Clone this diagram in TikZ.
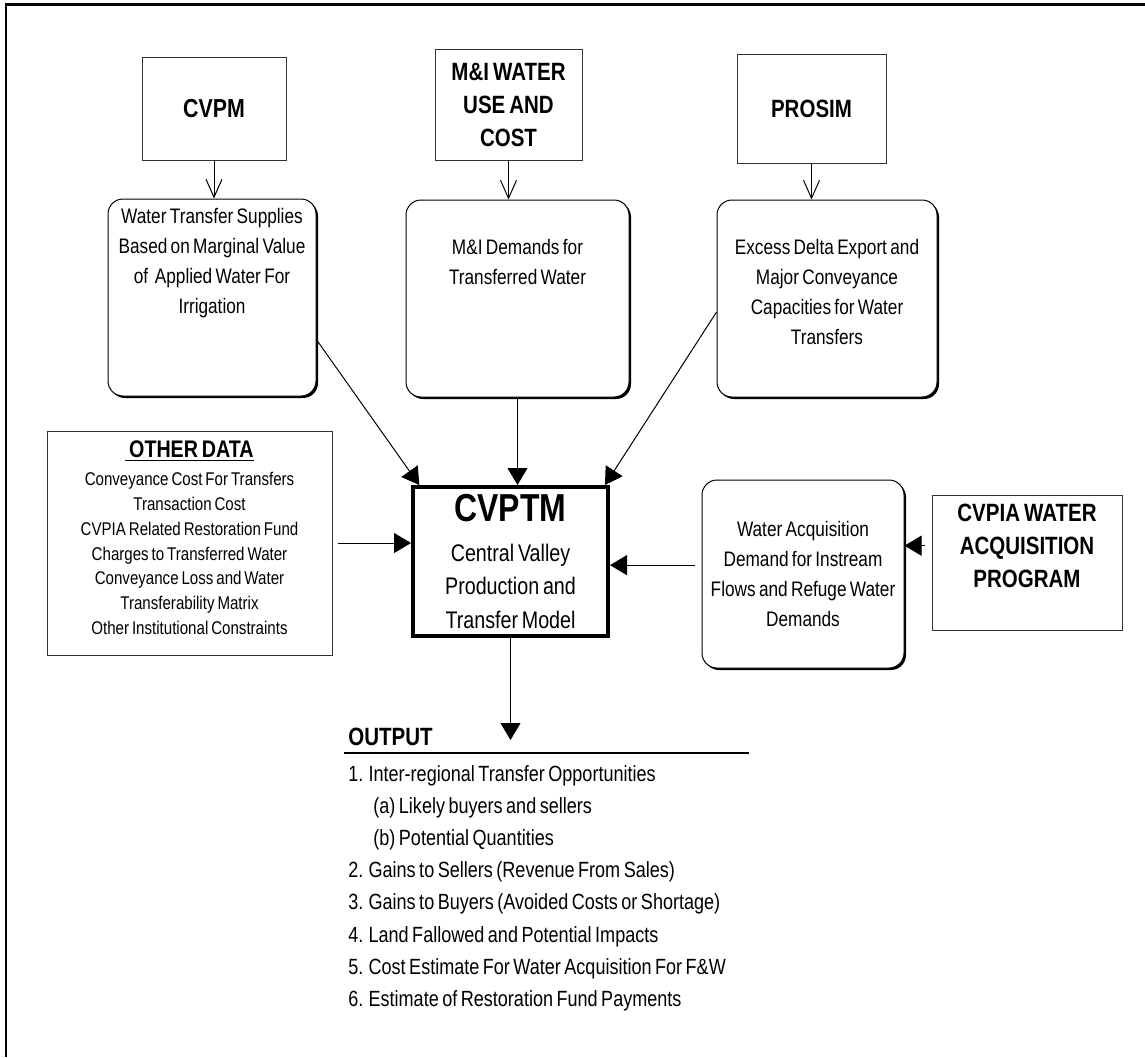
\documentclass[tikz,border=0pt]{standalone}
\usepackage{fontspec}
\setmainfont{Liberation Sans}[FakeStretch=0.82,WordSpace=0.7]
\usetikzlibrary{arrows.meta,positioning,shadows}

\begin{document}
\begin{tikzpicture}[x=0.5pt,y=-0.5pt,
    srcbox/.style={rectangle,draw=black!80,line width=0.5pt,align=center,
      font=\fontsize{12.5}{16.5}\selectfont\bfseries},
    rndbox/.style={rectangle,rounded corners=7.5pt,draw=black,line width=0.5pt,fill=white,
      drop shadow={shadow xshift=1pt,shadow yshift=-1pt,fill=black,opacity=1}},
    boxtext/.style={align=center,inner sep=0pt,font=\fontsize{10.5}{15}\selectfont},
    thinarr/.style={-{Straight Barb[length=9pt,width=8pt]},line width=0.5pt},
    fatarr/.style={-{Triangle[length=8.5pt,width=10pt]},line width=0.5pt}]
\useasboundingbox (0,0) rectangle (1145,1057);

% frame (top and left only)
\draw[line width=1.25pt] (5,4.5) -- (1145,4.5);
\draw[line width=1pt] (6,4) -- (6,1057);

% the models on top
\node[srcbox,minimum width=72pt,minimum height=51.5pt] (cvpm) at (214,108.5) {\fontsize{13}{16}\selectfont CVPM};
\node[srcbox,minimum width=73.5pt,minimum height=55.5pt] (miwater) at (508.5,104.5) {M\&I WATER\\USE AND\\COST};
\node[srcbox,minimum width=74.5pt,minimum height=54.5pt] (prosim) at (811.5,108.5) {PROSIM};

% rounded boxes for what they give
\node[rndbox,minimum width=104pt,minimum height=98.5pt] (supply) at (212,297.5) {};
\node[boxtext,below=4.75pt of supply.north] (supplytext) {Water Transfer Supplies\\Based on Marginal Value\\of~ Applied Water For\\Irrigation};
\node[rndbox,minimum width=111.5pt,minimum height=98.5pt] (midemand) at (517.5,298.5) {};
\node[boxtext,below=19.75pt of midemand.north] (midemandtext) {M\&I Demands for\\Transferred Water};
\node[rndbox,minimum width=110pt,minimum height=98.5pt] (export) at (827,298.5) {};
\node[boxtext,below=19.75pt of export.north] (exporttext) {Excess Delta Export and\\Major Conveyance\\Capacities for Water\\Transfers};

% the model itself
\node[rectangle,draw=black,line width=2pt,minimum width=97.5pt,minimum height=74.5pt,align=center,
      font=\fontsize{12}{16.75}\selectfont] (cvptm) at (510.5,561.5)
      {{\fontsize{19.5}{22}\selectfont\bfseries CVPTM}\\[3pt]Central Valley\\Production and\\Transfer Model};

% other data on the left
\node[srcbox,minimum width=142.5pt,minimum height=112pt] (other) at (189.5,543) {};
\node[below=5pt of other.north,align=center,inner sep=0pt,font=\fontsize{9.2}{12.4}\selectfont] (othertext)
      {{\fontsize{12}{12.4}\selectfont\bfseries\underline{~OTHER DATA}}\\[1.6pt]Conveyance Cost For Transfers\\Transaction Cost\\CVPIA Related Restoration Fund\\Charges to Transferred Water\\Conveyance Loss and Water\\Transferability Matrix\\Other Institutional Constraints};

% acquisition program on the right
\node[rndbox,boxtext,minimum width=101pt,minimum height=94pt] (acquis) at (803,574) {Water Acquisition\\Demand for Instream\\Flows and Refuge Water\\Demands};
\node[srcbox,minimum width=95pt,minimum height=67.5pt] (cvpia) at (1027,562.5) {};
\node[srcbox,draw=none,inner sep=0pt,below=4.5pt of cvpia.north] (cvpiatext) {CVPIA WATER\\ACQUISITION\\PROGRAM};

% output list
\node[anchor=base west,inner sep=0pt,font=\fontsize{12.5}{15}\selectfont\bfseries] (outtitle) at (348,745) {OUTPUT};
\draw[line width=1.3pt] ([shift={(-4,8)}]outtitle.base west) -- ++(405,0);
\coordinate (outtip) at (507,740);
\foreach \n/\dx/\txt in {0/0/{1. Inter-regional Transfer Opportunities},
                         1/25/{(a) Likely buyers and sellers},
                         2/25/{(b) Potential Quantities},
                         3/0/{2. Gains to Sellers (Revenue From Sales)},
                         4/0/{3. Gains to Buyers (Avoided Costs or Shortage)},
                         5/0/{4. Land Fallowed and Potential Impacts},
                         6/0/{5. Cost Estimate For Water Acquisition For F\&W},
                         7/0/{6. Estimate of Restoration Fund Payments}}
    \node[anchor=base west,inner sep=0pt,font=\fontsize{11}{16}\selectfont] (item\n) at ({348+\dx},{781+32.2*\n}) {\txt};

% arrows
\draw[thinarr] (cvpm.south) -- (cvpm.south |- supply.north);
\draw[thinarr] (miwater.south) -- (miwater.south |- midemand.north);
\draw[thinarr] (prosim.south) -- (prosim.south |- export.north);
\draw[fatarr] (supply.-22) -- (cvptm.140);
\draw[fatarr] (midemand.south) -- (midemand.south |- cvptm.north);
\draw[fatarr] (export.187) -- (cvptm.39);
\draw[fatarr,shorten <=2.5pt] (other.east) -- (other.east -| cvptm.west);
\draw[fatarr,shorten <=3.5pt] (acquis.175.5) -- (acquis.175.5 -| cvptm.east);
\draw[fatarr,shorten <=3.5pt] (cvpia.170) -- (cvpia.170 -| acquis.east);
\draw[fatarr] (cvptm.south) -- (cvptm.south |- outtip);
\end{tikzpicture}
\end{document}
